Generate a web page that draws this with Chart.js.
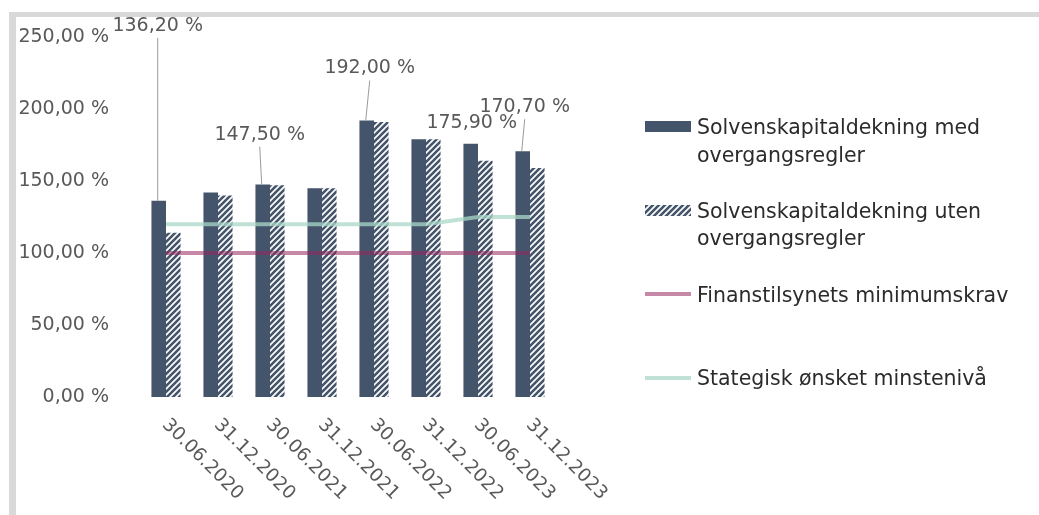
<!DOCTYPE html>
<html>
<head>
<meta charset="utf-8">
<script src="https://cdn.jsdelivr.net/npm/chart.js@4.4.1/dist/chart.umd.min.js"></script>
<style>
  html, body { margin: 0; padding: 0; background: #fff; }
  #wrap { position: relative; width: 1039px; height: 515px; overflow: hidden; }
  #frameTop { position: absolute; left: 9px; top: 12px; width: 1030px; height: 5px; background: #d9d9d9; }
  #frameLeft { position: absolute; left: 9px; top: 12px; width: 7px; height: 503px; background: #d9d9d9; }
  canvas { position: absolute; left: 0; top: 0; }
</style>
</head>
<body>
<div id="wrap">
  <div id="frameTop"></div>
  <div id="frameLeft"></div>
  <canvas id="myChart" width="1039" height="515"></canvas>
</div>
<script>
// reporting dates (x axis)
const dates = ['30.06.2020', '31.12.2020', '30.06.2021', '31.12.2021',
               '30.06.2022', '31.12.2022', '30.06.2023', '31.12.2023']

// solvency ratios in %
const medOvergang = [136.2, 142.1, 147.5, 145.0, 192.0, 179.0, 175.9, 170.7]
const utenOvergang = [114.0, 140.0, 147.0, 145.0, 191.0, 179.0, 164.0, 159.0]
const minimumskrav = [100, 100, 100, 100, 100, 100, 100, 100]
const minstenivaa = [120, 120, 120, 120, 120, 120, 125, 125]

// y axis ticks
const yTicks = [0, 50, 100, 150, 200, 250]

// series names
const seriesNames = [
  ['Solvenskapitaldekning med', 'overgangsregler'],
  ['Solvenskapitaldekning uten', 'overgangsregler'],
  ['Finanstilsynets minimumskrav'],
  ['Stategisk ønsket minstenivå']
]

// which bars get a data label, and where the label sits (px from bar top)
const labelShown = [true, false, true, false, true, false, true, true]
const labelOffset = [[-1, -175], null, [-3, -50], null, [3, -52], null, [1, -21], [2, -44]]
const labelLeader = [true, false, true, false, true, false, false, true]

const DARK = '#44546a'
const TEXT = '#595959'
const PINK = 'rgba(150, 40, 95, 0.55)'
const TEAL = 'rgba(170, 215, 200, 0.75)'

function pct(v) {
  return v.toFixed(2).replace('.', ',') + ' %'
}

// diagonal stripes like Excel's "wide upward diagonal"
function hatch() {
  const s = 6
  const c = document.createElement('canvas')
  c.width = s; c.height = s
  const g = c.getContext('2d')
  g.fillStyle = '#fff'
  g.fillRect(0, 0, s, s)
  g.strokeStyle = DARK
  g.lineWidth = 2.6
  g.beginPath()
  g.moveTo(-1, s + 1); g.lineTo(s + 1, -1)
  g.moveTo(-2, 2); g.lineTo(2, -2)
  g.moveTo(s - 2, s + 2); g.lineTo(s + 2, s - 2)
  g.stroke()
  return g.createPattern(c, 'repeat')
}
const hatchFill = hatch()

// labels above chosen bars
const dataLabels = {
  id: 'dataLabels',
  afterDatasetsDraw(chart) {
    const ctx = chart.ctx
    const meta = chart.getDatasetMeta(0)
    ctx.save()
    ctx.font = '19px "DejaVu Sans"'
    ctx.fillStyle = TEXT
    ctx.textAlign = 'center'
    ctx.textBaseline = 'middle'
    meta.data.forEach((bar, i) => {
      if (!labelShown[i]) return
      const lx = bar.x + labelOffset[i][0]
      const ly = bar.y + labelOffset[i][1]
      if (labelLeader[i]) {
        ctx.strokeStyle = '#999'
        ctx.lineWidth = 1
        ctx.beginPath()
        ctx.moveTo(bar.x - 1, bar.y)
        ctx.lineTo(lx, ly + 12)
        ctx.stroke()
      }
      ctx.fillText(pct(medOvergang[i]), lx, ly)
    })
    ctx.restore()
  }
}

// rotated date labels under the bars
const dateLabels = {
  id: 'dateLabels',
  afterDraw(chart) {
    const ctx = chart.ctx
    const x = chart.scales.x
    ctx.save()
    ctx.font = '18.5px "DejaVu Sans"'
    ctx.fillStyle = TEXT
    ctx.textAlign = 'left'
    ctx.textBaseline = 'middle'
    dates.forEach((d, i) => {
      ctx.save()
      ctx.translate(x.getPixelForValue(i) - 1, chart.chartArea.bottom + 25)
      ctx.rotate(Math.PI / 4)
      ctx.fillText(d, 0, 0)
      ctx.restore()
    })
    ctx.restore()
  }
}

// legend on the right
const sideLegend = {
  id: 'sideLegend',
  afterDraw(chart) {
    const ctx = chart.ctx
    const sx = 645, sw = 46, tx = 697
    const rows = [[134, 162], [218, 245], [302], [385]]
    ctx.save()
    ctx.fillStyle = DARK
    ctx.fillRect(sx, 121, sw, 11)
    ctx.fillStyle = hatchFill
    ctx.fillRect(sx, 205, sw, 11)
    ctx.lineWidth = 4
    ctx.strokeStyle = PINK
    ctx.beginPath(); ctx.moveTo(sx, 294); ctx.lineTo(sx + sw, 294); ctx.stroke()
    ctx.strokeStyle = TEAL
    ctx.beginPath(); ctx.moveTo(sx, 378); ctx.lineTo(sx + sw, 378); ctx.stroke()
    ctx.font = '20.5px "DejaVu Sans"'
    ctx.fillStyle = '#2b2b2b'
    ctx.textAlign = 'left'
    ctx.textBaseline = 'alphabetic'
    seriesNames.forEach((lines, i) => {
      lines.forEach((t, j) => ctx.fillText(t, tx, rows[i][j]))
    })
    ctx.restore()
  }
}

const ctx = document.getElementById('myChart').getContext('2d')
const chart = new Chart(ctx, {
  type: 'bar',
  data: {
    labels: dates,
    datasets: [
      {
        label: seriesNames[0].join(' '),
        data: medOvergang,
        backgroundColor: DARK,
        borderWidth: 0,
        categoryPercentage: 0.56,
        barPercentage: 1.0,
        order: 2
      },
      {
        label: seriesNames[1].join(' '),
        data: utenOvergang,
        backgroundColor: hatchFill,
        borderWidth: 0,
        categoryPercentage: 0.56,
        barPercentage: 1.0,
        order: 2
      },
      {
        type: 'line',
        label: seriesNames[2][0],
        data: minimumskrav,
        borderColor: PINK,
        borderWidth: 4,
        pointRadius: 0,
        fill: false,
        order: 1
      },
      {
        type: 'line',
        label: seriesNames[3][0],
        data: minstenivaa,
        borderColor: TEAL,
        borderWidth: 4,
        pointRadius: 0,
        fill: false,
        order: 1
      }
    ]
  },
  options: {
    responsive: false,
    animation: false,
    layout: { padding: { top: 37, right: 483, bottom: 0, left: 0 } },
    plugins: {
      legend: { display: false },
      tooltip: { enabled: false }
    },
    scales: {
      x: {
        grid: { display: false },
        border: { display: false },
        ticks: { display: false },
        afterFit(s) { s.height = 118 }
      },
      y: {
        min: 0,
        max: 250,
        grid: { display: false },
        border: { display: false },
        afterBuildTicks(s) { s.ticks = yTicks.map(v => ({ value: v })) },
        ticks: {
          color: TEXT,
          font: { family: 'DejaVu Sans', size: 19 },
          padding: 23,
          callback: v => pct(v)
        },
        afterFit(s) { s.width = 140 }
      }
    }
  },
  plugins: [dataLabels, dateLabels, sideLegend]
})
</script>
</body>
</html>
